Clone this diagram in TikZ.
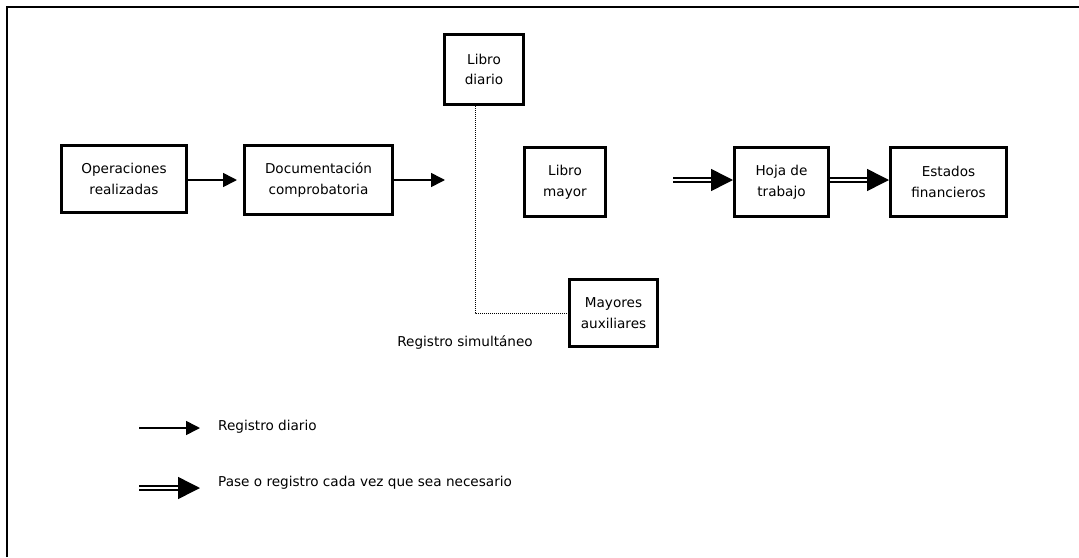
\documentclass[tikz,border=0pt]{standalone}
\usepackage{fontspec}
\setmainfont{DejaVu Sans}
\usetikzlibrary{arrows.meta}
\begin{document}
\begin{tikzpicture}[x=1pt,y=-1pt,
  box/.style={draw,line width=2.8pt,align=center,inner sep=0pt,
    font=\fontsize{13.6}{20.5}\selectfont},
  lbl/.style={inner sep=0pt,font=\fontsize{13.6}{16}\selectfont},
  single/.style={line width=1.6pt,-{Triangle[length=14pt,width=14pt]}},
  dbl/.style={double,double distance=2.4pt,line width=1.5pt,-{Triangle[length=22pt,width=22pt]}},
  dotline/.style={line width=1pt,dash pattern=on 1pt off 1pt}]
\useasboundingbox (0,0) rectangle (1079,557);
\draw[line width=2.6pt] (7,557) -- (7,7) -- (1079,7);

\node[box,minimum width=125.2pt,minimum height=67.2pt] (ope) at (124,179) {Operaciones\\realizadas};
\node[box,minimum width=148.2pt,minimum height=69.2pt] (doc) at (318.5,180) {Documentación\\comprobatoria};
\node[box,minimum width=79.2pt,minimum height=70.2pt] (diario) at (484,69.5) {Libro\\diario};
\node[box,minimum width=81.2pt,minimum height=69.2pt] (mayor) at (565,182) {Libro\\mayor};
\node[box,minimum width=94.2pt,minimum height=69.2pt] (hoja) at (781.5,182) {Hoja de\\trabajo};
\node[box,minimum width=116.2pt,minimum height=69.2pt] (estados) at (948.5,182) {Estados\\financieros};
\node[box,minimum width=88.2pt,minimum height=67.2pt] (aux) at (613.5,313) {Mayores\\auxiliares};

\coordinate (a2end) at (445,180);
\coordinate (d1start) at (673,180);

\draw[single,shorten >=6pt] (ope.east |- 0,180) -- (doc.west |- 0,180);
\draw[single] (doc.east |- a2end) -- (a2end);
\draw[dotline] ([xshift=-9pt]diario.south) |- (aux.west);
\draw[dbl] (d1start) -- (d1start -| hoja.west);
\draw[dbl] (hoja.east |- d1start) -- (estados.west |- d1start);

\node[lbl,anchor=east] (simul) at (533,342) {Registro simultáneo};

\coordinate (l1s) at (139,428);
\coordinate (l1e) at (200,428);
\coordinate (l2s) at (139,488);
\coordinate (l2e) at (200,488);
\draw[single] (l1s) -- (l1e);
\draw[dbl] (l2s) -- (l2e);
\node[lbl,anchor=west] (leg1) at (218,427) {Registro diario};
\node[lbl,anchor=west] (leg2) at (218,483) {Pase o registro cada vez que sea necesario};
\end{tikzpicture}
\end{document}
